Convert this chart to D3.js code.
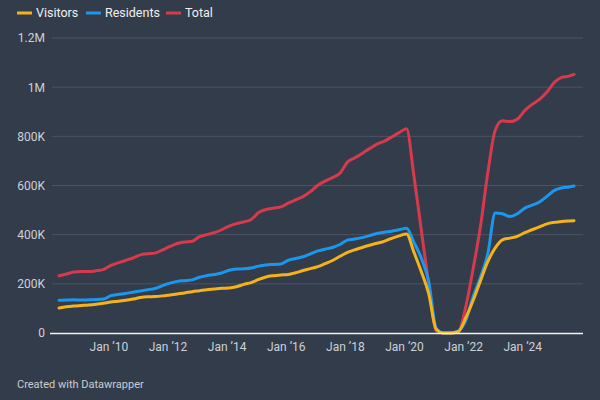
<!DOCTYPE html>
<html>
<head>
<meta charset="utf-8">
<script src="https://cdn.jsdelivr.net/npm/d3@7"></script>
<style>
    body { margin: 0; background: #333c4a; }
    #chart { width: 600px; height: 400px; }
    text { font-family: Roboto, "Noto Sans", sans-serif; }
</style>
</head>
<body>
<div id="chart"></div>
<script>
// quarterly readings, values in thousands
const months = [
    '2008-05', '2008-08', '2008-11',
    '2009-02', '2009-05', '2009-08', '2009-11',
    '2010-02', '2010-05', '2010-08', '2010-11',
    '2011-02', '2011-05', '2011-08', '2011-11',
    '2012-02', '2012-05', '2012-08', '2012-11',
    '2013-02', '2013-05', '2013-08', '2013-11',
    '2014-02', '2014-05', '2014-08', '2014-11',
    '2015-02', '2015-05', '2015-08', '2015-11',
    '2016-02', '2016-05', '2016-08', '2016-11',
    '2017-02', '2017-05', '2017-08', '2017-11',
    '2018-02', '2018-05', '2018-08', '2018-11',
    '2019-02', '2019-05', '2019-08', '2019-11',
    '2020-02', '2020-05', '2020-08', '2020-11',
    '2021-02', '2021-05', '2021-08', '2021-11',
    '2022-02', '2022-05', '2022-08', '2022-11',
    '2023-02', '2023-05', '2023-08', '2023-11',
    '2024-02', '2024-05', '2024-08', '2024-11',
    '2025-02', '2025-05', '2025-08', '2025-10'
];

const visitors = [
    102, 107, 110,
    112, 114, 117, 121,
    126, 129, 133, 138,
    144, 147, 148, 151,
    155, 159, 163, 168,
    172, 176, 179, 182,
    183, 188, 198, 205,
    218, 228, 233, 236,
    238, 245, 254, 262,
    270, 282, 295, 312,
    328, 338, 348, 357,
    365, 373, 385, 395,
    403, 330, 250, 160,
    15, 0, 0, 5,
    61, 130, 211, 290,
    346, 379, 386, 393,
    408, 420, 432, 444,
    450, 454, 456, 457
];

const residents = [
    133, 134, 135,
    134, 135, 136, 138,
    152, 157, 161, 166,
    171, 176, 181, 193,
    203, 210, 213, 216,
    227, 233, 238, 244,
    255, 260, 261, 264,
    272, 277, 279, 281,
    296, 303, 310, 322,
    334, 341, 348, 360,
    378, 382, 388, 396,
    405, 410, 414, 420,
    426, 370, 305, 210,
    20, 0, 0, 8,
    50, 144, 225, 322,
    488, 485, 474, 485,
    508, 520, 533, 556,
    580, 590, 594, 598
];

const total = [
    233, 240, 248,
    250, 250, 253, 258,
    275, 285, 295, 305,
    318, 322, 325, 338,
    352, 364, 370, 373,
    392, 400, 408, 420,
    435, 445, 452, 462,
    490, 502, 508, 513,
    528, 542, 555, 575,
    601, 618, 632, 650,
    695, 712, 730, 750,
    768, 780, 797, 815,
    831, 643, 420, 200,
    10, 0, 0, 5,
    105, 256, 430, 651,
    825, 863, 860, 870,
    905, 930, 950, 980,
    1020, 1040, 1045, 1052
];

const seriesNames = ['Visitors', 'Residents', 'Total'];
const seriesColors = ['#f5b31b', '#1b98ee', '#d73a4d'];

const yTicks = [0, 200, 400, 600, 800, 1000, 1200];
const yTickLabels = ['0', '200K', '400K', '600K', '800K', '1M', '1.2M'];

class LineChart {

    constructor(parentElement) {
        this.parentElement = parentElement;
        this.displayData = [];
        this.initVis();
    }

    initVis() {
        let vis = this;

        vis.width = 600;
        vis.height = 400;
        vis.plot = {left: 52, right: 583, top: 38, bottom: 333};

        vis.svg = d3.select('#' + vis.parentElement).append('svg')
            .attr('width', vis.width)
            .attr('height', vis.height);

        vis.svg.append('rect')
            .attr('width', vis.width)
            .attr('height', vis.height)
            .attr('fill', '#333c4a');

        vis.parseMonth = d3.timeParse('%Y-%m');

        // scales
        vis.x = d3.scaleTime()
            .domain(d3.extent(months, m => vis.parseMonth(m)))
            .range([59, 574]);

        vis.y = d3.scaleLinear()
            .domain([0, 1200])
            .range([vis.plot.bottom, vis.plot.top]);

        // gridlines
        vis.svg.append('g')
            .attr('class', 'grid')
            .selectAll('line')
            .data(yTicks.filter(d => d > 0))
            .enter()
            .append('line')
            .attr('x1', vis.plot.left)
            .attr('x2', vis.plot.right)
            .attr('y1', d => vis.y(d))
            .attr('y2', d => vis.y(d))
            .attr('stroke', '#4b5464')
            .attr('stroke-width', 1);

        // y axis labels
        vis.yAxis = d3.axisLeft(vis.y)
            .tickValues(yTicks)
            .tickFormat((d, i) => yTickLabels[i])
            .tickSize(0)
            .tickPadding(7);

        vis.yAxisGroup = vis.svg.append('g')
            .attr('transform', `translate(${vis.plot.left}, 0)`)
            .call(vis.yAxis);

        // x axis labels
        vis.xAxis = d3.axisBottom(vis.x)
            .ticks(d3.timeYear.every(2))
            .tickFormat(d3.timeFormat('Jan \u2019%y'))
            .tickSize(0)
            .tickPadding(9);

        vis.xAxisGroup = vis.svg.append('g')
            .attr('transform', `translate(0, ${vis.plot.bottom})`)
            .call(vis.xAxis);

        [vis.xAxisGroup, vis.yAxisGroup].forEach(g => {
            g.select('.domain').remove();
            g.selectAll('text')
                .attr('fill', '#cdd1d7')
                .style('font-size', '12px')
                .style('font-family', 'Roboto, sans-serif');
        });

        vis.lineGroup = vis.svg.append('g').attr('class', 'lines');

        // zero baseline
        vis.svg.append('line')
            .attr('x1', 50)
            .attr('x2', vis.plot.right)
            .attr('y1', vis.y(0) + 0.5)
            .attr('y2', vis.y(0) + 0.5)
            .attr('stroke', '#f2f2f2')
            .attr('stroke-width', 1.5);

        vis.line = d3.line()
            .x(d => vis.x(d.date))
            .y(d => vis.y(d.value))
            .curve(d3.curveMonotoneX);

        // legend
        let legendX = [17, 86, 166];
        let legend = vis.svg.append('g').attr('class', 'legend');
        seriesNames.forEach((name, i) => {
            legend.append('line')
                .attr('x1', legendX[i])
                .attr('x2', legendX[i] + 15)
                .attr('y1', 13)
                .attr('y2', 13)
                .attr('stroke', seriesColors[i])
                .attr('stroke-width', 3);
            legend.append('text')
                .attr('x', legendX[i] + 19)
                .attr('y', 13)
                .attr('dy', '0.35em')
                .attr('fill', '#f0f0f0')
                .style('font-size', '12.5px')
                .text(name);
        });

        // credit
        vis.svg.append('text')
            .attr('x', 17)
            .attr('y', 388)
            .attr('fill', '#c9cdd3')
            .style('font-size', '11px')
            .text('Created with Datawrapper');

        vis.wrangleData();
    }

    wrangleData() {
        let vis = this;
        let seriesValues = [visitors, residents, total];

        vis.displayData = seriesNames.map((name, i) => ({
            name: name,
            color: seriesColors[i],
            values: months.map((m, j) => ({date: vis.parseMonth(m), value: seriesValues[i][j]}))
        }));

        // total at the back, visitors on top
        vis.displayData.reverse();

        vis.updateVis();
    }

    updateVis() {
        let vis = this;

        vis.lineGroup.selectAll('.series')
            .data(vis.displayData)
            .enter()
            .append('path')
            .attr('class', 'series')
            .attr('d', d => vis.line(d.values))
            .attr('fill', 'none')
            .attr('stroke', d => d.color)
            .attr('stroke-width', 3)
            .attr('stroke-linejoin', 'round')
            .attr('stroke-linecap', 'round');
    }
}

new LineChart('chart');
</script>
</body>
</html>
